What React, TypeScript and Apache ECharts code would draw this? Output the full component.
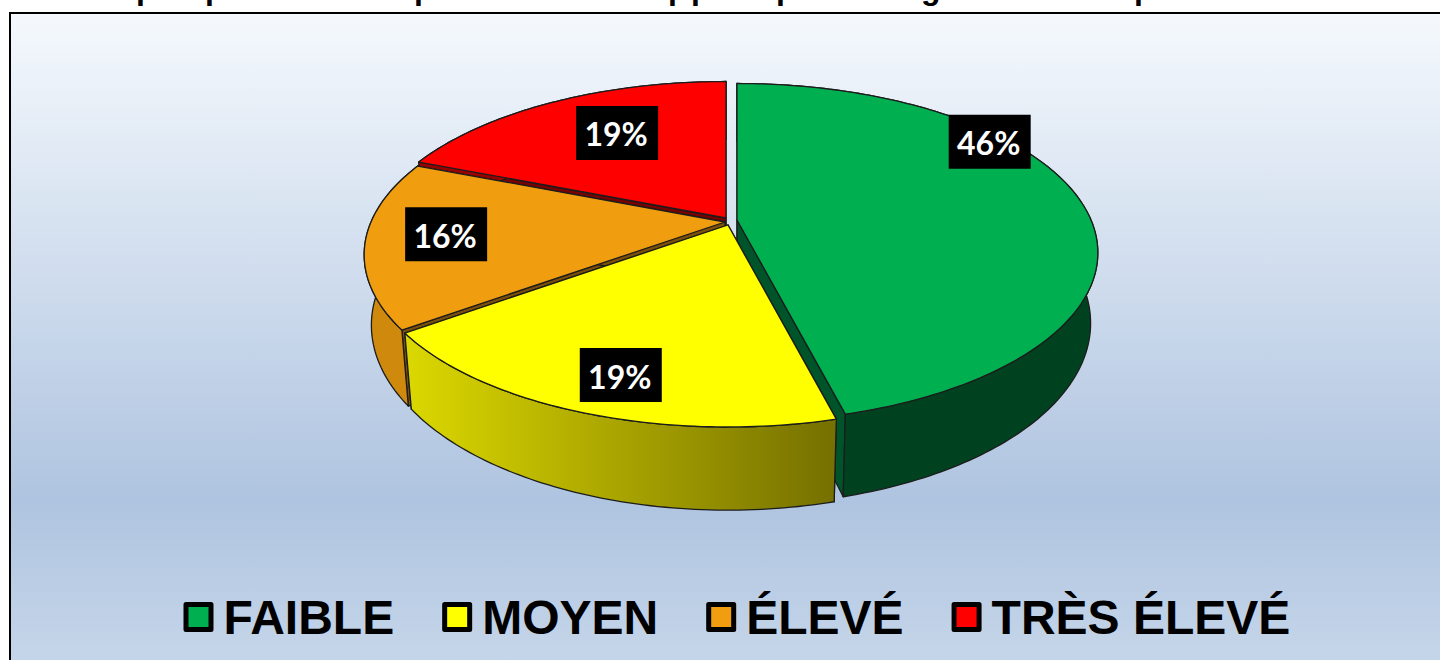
import React, { useEffect, useRef } from "react";
import * as echarts from "echarts";

// ---- data ----
const CATEGORIES = ["FAIBLE", "MOYEN", "ÉLEVÉ", "TRÈS ÉLEVÉ"];
const VALUES = [46, 19, 16, 19];
// Only the descenders of the cropped title are visible in the picture.
const TITLE_GLYPHS = ["p", "p", "p", "p", "p", "p", "g", "p"];

// ---- layout and style ----
const TITLE_X = [136, 205, 414, 668, 691, 776, 921, 1134];
const COLORS = ["#00b050", "#ffff00", "#f09e0f", "#ff0000"];
const FACE_COLORS = ["#00542a", "#7f7a00", "#7c4f0a", "#7a0000"];
const WALL_FILLS: any[] = [
  "#00421f",
  { type: "linear", x: 0, y: 0, x2: 1, y2: 0, colorStops: [
    { offset: 0, color: "#dcd800" }, { offset: 1, color: "#757000" } ] },
  "#cf8a0e",
  "#990000",
];
const DRAW_ORDER = [3, 4, 2, 1]; // z of each slice: yellow over green over orange over red
const APEX = [[737, 220], [728, 225], [725, 222], [726, 218]];
const LABEL_SHIFT_DEG = [-26.7, -1.6, 1.8, 3.7];
const LABEL_RADIUS = [0.948, 0.823, 0.78, 0.674];
const A = 354, B = 162.9, P = 0.1935;
const DEPTH_BASE = 68, DEPTH_SY = 1.075, DEPTH_SX = 0.98;
const BOX_W = 82, BOX_H = 54;

const total = VALUES.reduce((s, v) => s + v, 0);

function project(apex: number[], deg: number, r = 1, bottom = false) {
  const t = (deg * Math.PI) / 180;
  const u = r * Math.sin(t), v = -r * Math.cos(t);
  const w = 1 - P * v;
  const x = (A * u) / w, y = (B * v) / w;
  return bottom
    ? [apex[0] + x * DEPTH_SX, apex[1] + DEPTH_BASE + y * DEPTH_SY]
    : [apex[0] + x, apex[1] + y];
}

function arc(apex: number[], a0: number, a1: number, bottom = false) {
  const n = Math.max(8, Math.ceil(Math.abs(a1 - a0)));
  const pts: number[][] = [];
  for (let i = 0; i <= n; i++) pts.push(project(apex, a0 + ((a1 - a0) * i) / n, 1, bottom));
  return pts;
}

function sliceRenderer(index: number) {
  const before = VALUES.slice(0, index).reduce((s, v) => s + v, 0);
  return (_params: any, api: any) => {
    const value = api.value(0);
    const a0 = (before / total) * 360;
    const a1 = ((before + value) / total) * 360;
    const apex = APEX[index];
    const edge = { stroke: "#1c1c1c", lineWidth: 1.3, lineJoin: "round" };
    const apexB = [apex[0], apex[1] + DEPTH_BASE];
    const face = (deg: number) => ({
      type: "polygon",
      shape: { points: [apex, project(apex, deg), project(apex, deg, 1, true), apexB] },
      style: { fill: FACE_COLORS[index], ...edge },
    });
    const mid = (a0 + a1) / 2 + LABEL_SHIFT_DEG[index];
    const lab = project(apex, mid, LABEL_RADIUS[index]);
    return {
      type: "group",
      children: [
        face(a0),
        face(a1),
        { type: "polygon", shape: { points: [...arc(apex, a0, a1), ...arc(apex, a1, a0, true)] },
          style: { fill: WALL_FILLS[index], ...edge } },
        { type: "polygon", shape: { points: [apex, ...arc(apex, a0, a1)] },
          style: { fill: COLORS[index], ...edge } },
        { type: "rect", shape: { x: lab[0] - BOX_W / 2, y: lab[1] - BOX_H / 2, width: BOX_W, height: BOX_H },
          style: { fill: "#000" } },
        { type: "text", x: lab[0] - 1, y: lab[1] + 1,
          style: { text: `${value}%`, fill: "#fff", font: "bold 32px Lato", align: "center", verticalAlign: "middle" } },
      ],
    };
  };
}

export default function App() {
  const ref = useRef<HTMLDivElement>(null);
  useEffect(() => {
    document.body.style.margin = "0";
    const chart = echarts.init(ref.current!, null, { renderer: "svg" });
    chart.setOption({
      animation: false,
      backgroundColor: "#ffffff",
      graphic: [
        { type: "rect", z: -1,
          shape: { x: 10, y: 13, width: 1500, height: 660 },
          style: { stroke: "#000", lineWidth: 2,
            fill: { type: "linear", x: 0, y: 0, x2: 0, y2: 1, colorStops: [
              { offset: 0, color: "#f5f9fd" },
              { offset: 0.74, color: "#afc4e0" },
              { offset: 1, color: "#c7d7ea" } ] } } },
        ...TITLE_GLYPHS.map((g, i) => ({
          type: "text", x: TITLE_X[i], y: 4, z: 0,
          style: { text: g, fill: "#000", font: "bold 32px 'Liberation Sans'", verticalAlign: "bottom" },
        })),
      ],
      legend: {
        data: CATEGORIES,
        left: 183.5,
        top: 593,
        padding: 0,
        icon: "rect",
        itemWidth: 25,
        itemHeight: 25,
        itemGap: 48,
        selectedMode: false,
        itemStyle: { borderColor: "#000", borderWidth: 5, borderJoin: "round" },
        textStyle: { color: "#000", fontFamily: "Liberation Sans", fontWeight: "bold", fontSize: 48, padding: [0, 0, 0, 7.5] },
      },
      series: CATEGORIES.map((name, i) => ({
        type: "custom",
        name,
        coordinateSystem: "none",
        z: DRAW_ORDER[i],
        silent: true,
        itemStyle: { color: COLORS[i] },
        data: [[VALUES[i]]],
        renderItem: sliceRenderer(i),
      })),
    });
    return () => chart.dispose();
  }, []);
  return <div ref={ref} style={{ position: "fixed", left: 0, top: 0, width: 1440, height: 660 }} />;
}
